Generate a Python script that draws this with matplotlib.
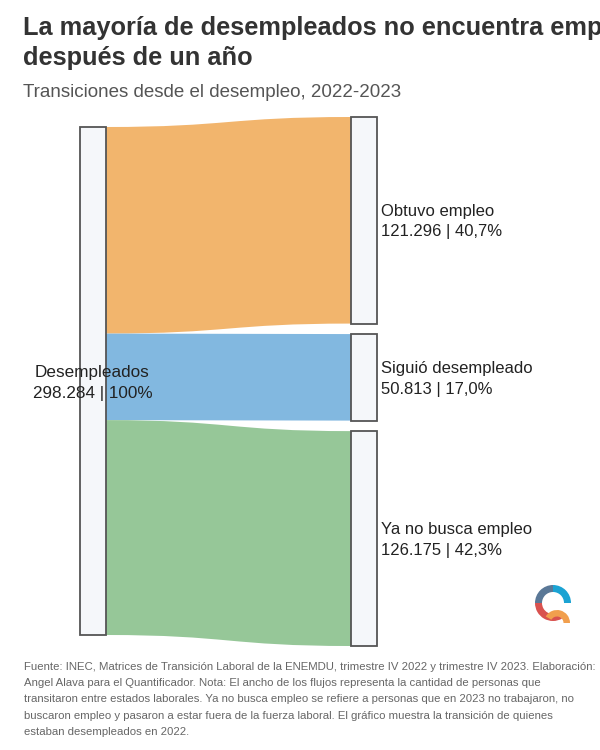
import matplotlib
matplotlib.use("Agg")
import matplotlib.pyplot as plt
from matplotlib.path import Path
from matplotlib.patches import PathPatch, Rectangle, Wedge

plt.rcParams['font.family'] = ['Liberation Sans', 'DejaVu Sans']

# datos
origen = "Desempleados"
origen_valor = 298284
origen_etiqueta = "298.284 | 100%"
destinos = ["Obtuvo empleo", "Siguió desempleado", "Ya no busca empleo"]
valores = [121296, 50813, 126175]
etiquetas_valor = ["121.296 | 40,7%", "50.813 | 17,0%", "126.175 | 42,3%"]
colores = ["#F2B165", "#7BB4DF", "#90C493"]

titulo_1 = "La mayoría de desempleados no encuentra empleo"
titulo_2 = "después de un año"
subtitulo = "Transiciones desde el desempleo, 2022-2023"
nota = ("Fuente: INEC, Matrices de Transición Laboral de la ENEMDU, trimestre IV 2022 y trimestre IV 2023. Elaboración:\n"
        "Angel Alava para el Quantificador. Nota: El ancho de los flujos representa la cantidad de personas que\n"
        "transitaron entre estados laborales. Ya no busca empleo se refiere a personas que en 2023 no trabajaron, no\n"
        "buscaron empleo y pasaron a estar fuera de la fuerza laboral. El gráfico muestra la transición de quienes\n"
        "estaban desempleados en 2022.")

fig = plt.figure(figsize=(6, 7.5), dpi=100)
ax = fig.add_axes([0, 0, 1, 1])
ax.set_xlim(0, 600)
ax.set_ylim(750, 0)
ax.axis('off')

# geometria en pixeles
x_izq, ancho_nodo, x_der = 80, 26, 351
top_izq, top_der, hueco = 127, 117, 10.5
escala = 508 / origen_valor

# flujos
y_izq = top_izq
y_der = top_der
posiciones = []
for v, c in zip(valores, colores):
    h = v * escala
    x0 = x_izq + ancho_nodo
    x1 = x_der
    xm = (x0 + x1) / 2
    verts = [(x0, y_izq), (xm, y_izq), (xm, y_der), (x1, y_der),
             (x1, y_der + h), (xm, y_der + h), (xm, y_izq + h), (x0, y_izq + h),
             (x0, y_izq)]
    codes = [Path.MOVETO, Path.CURVE4, Path.CURVE4, Path.CURVE4,
             Path.LINETO, Path.CURVE4, Path.CURVE4, Path.CURVE4, Path.CLOSEPOLY]
    ax.add_patch(PathPatch(Path(verts, codes), fc=c, ec='none', alpha=0.95, zorder=1))
    posiciones.append((y_der, h))
    y_izq += h
    y_der += h + hueco

# nodos
nodo_kw = dict(fc="#F5F7FA", ec="#555555", lw=1.3, zorder=2)
ax.add_patch(Rectangle((x_izq, top_izq), ancho_nodo, origen_valor * escala, **nodo_kw))
for (y, h) in posiciones:
    ax.add_patch(Rectangle((x_der, y), ancho_nodo, h, **nodo_kw))

# etiquetas
ax.text(x_izq + ancho_nodo / 2 - 0.5, top_izq + origen_valor * escala / 2 + 2,
        origen + "\n" + origen_etiqueta, ha='center', va='center', fontsize=12.3,
        color="#222222", linespacing=1.45, zorder=3)
for (y, h), nombre, ev in zip(posiciones, destinos, etiquetas_valor):
    ax.text(x_der + ancho_nodo + 4, y + h / 2 + 1.5, nombre + "\n" + ev, ha='left', va='center',
            fontsize=12, color="#222222", linespacing=1.45, zorder=3)

# titulos
ax.text(23, 35, titulo_1, fontsize=18.3, fontweight='bold', color="#333333",
        ha='left', va='baseline')
ax.text(23, 65, titulo_2, fontsize=18.3, fontweight='bold', color="#333333",
        ha='left', va='baseline')
ax.text(23, 97, subtitulo, fontsize=13.5, color="#555555", ha='left', va='baseline')
ax.text(24, 662, nota, fontsize=8.2, color="#666666", ha='left', va='top', linespacing=1.78)

# logo
cx, cy, r = 553, 603, 18
ax.add_patch(Wedge((cx, cy), r, 180, 270, width=7, fc="#5A7897", ec='none'))
ax.add_patch(Wedge((cx, cy), r, 270, 360, width=7, fc="#1BA3D3", ec='none'))
ax.add_patch(Wedge((cx, cy), r, 60, 180, width=7, fc="#D9524F", ec='none'))
ax.add_patch(Wedge((cx + 4, cy + 20), 13, 210, 360, width=6.5, fc="#F19F4D", ec='none'))

fig.savefig("out.png", dpi=100)
